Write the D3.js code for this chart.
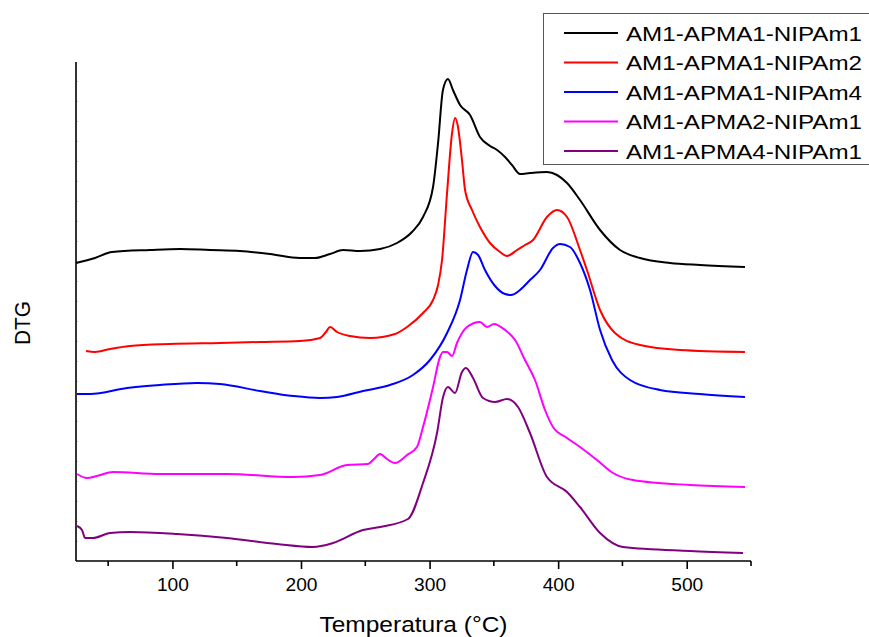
<!DOCTYPE html>
<html>
<head>
<script src="https://d3js.org/d3.v7.min.js"></script>
<style>
  body { margin: 0; background: #fff; }
  text { font-family: "Liberation Sans", Arial, sans-serif; }
</style>
</head>
<body>
<svg width="869" height="637"></svg>
<script>
// series names and colours
var names = ["AM1-APMA1-NIPAm1", "AM1-APMA1-NIPAm2", "AM1-APMA1-NIPAm4", "AM1-APMA2-NIPAm1", "AM1-APMA4-NIPAm1"];
var colors = ["#000000", "#ff0000", "#0000ff", "#ff00ff", "#800080"];

// [temperature (°C), DTG (offset, arb. units)]
var nipam1 = [[25,5.96],[39.8,6.06],[53,6.18],[82.6,6.22],[105.9,6.24],[129.2,6.22],[152.6,6.2],[175.9,6.14],[199.2,6.06],[210.9,6.06],[222.6,6.14],[232.7,6.22],[245.9,6.2],[261.5,6.24],[274.7,6.36],[286.3,6.58],[294.9,6.88],[302.7,7.48],[306.6,8.36],[310.4,9.42],[314.3,9.64],[318.2,9.42],[323.7,9.12],[331.5,8.92],[339.2,8.48],[347,8.3],[352.5,8.22],[358.7,8.08],[364.1,7.92],[370.3,7.74],[378.1,7.76],[391.3,7.78],[399.1,7.72],[406.9,7.56],[417,7.22],[432.6,6.62],[448.1,6.22],[463.7,6.06],[487,5.96],[510.3,5.92],[545.3,5.88]];
var nipam2 = [[32.8,4.2],[39.8,4.18],[51.4,4.24],[67,4.3],[98.1,4.34],[137,4.36],[168.1,4.38],[199.2,4.4],[214.8,4.46],[219.4,4.58],[222.6,4.68],[228,4.58],[238.1,4.5],[253.7,4.46],[273.1,4.54],[282.5,4.68],[294.9,4.96],[302.7,5.22],[306.6,5.52],[309.7,6.02],[313.6,7.36],[317.5,8.56],[319.8,8.86],[322.1,8.68],[325.2,8.02],[327.6,7.42],[333,7.02],[339.2,6.68],[347,6.36],[354.8,6.18],[360.2,6.1],[368,6.22],[374.2,6.32],[380.5,6.42],[391.3,6.88],[399.1,7.02],[406.9,6.88],[417,6.22],[422.4,5.82],[432.6,5.02],[444.2,4.56],[463.7,4.32],[494.8,4.22],[545.3,4.18]];
var nipam4 = [[25.8,3.34],[35.9,3.34],[64.7,3.46],[90.3,3.52],[119.1,3.56],[137,3.54],[168.1,3.4],[193.8,3.3],[214.8,3.26],[228,3.28],[248.2,3.4],[269.2,3.52],[287.1,3.72],[300.3,4.02],[313.6,4.56],[323.7,5.22],[329.1,5.82],[333.8,6.18],[337.7,6.12],[343.1,5.82],[350.9,5.5],[358.7,5.34],[363.3,5.32],[370.3,5.42],[378.1,5.62],[385.9,5.82],[396,6.26],[401.5,6.34],[409.2,6.28],[417,5.96],[424.8,5.42],[432.6,4.62],[441.9,4.02],[455.9,3.62],[479.2,3.42],[510.3,3.34],[545.3,3.28]];
var apma2 = [[25.8,1.74],[33.6,1.66],[41.3,1.7],[53.8,1.78],[90.3,1.74],[142.4,1.74],[193.8,1.68],[214.8,1.72],[235.8,1.92],[252.1,1.94],[256.8,2.04],[261.5,2.14],[266.9,2.04],[273.1,1.96],[282.5,2.12],[290.2,2.28],[294.9,2.68],[302.7,3.48],[308.1,4.08],[310.5,4.18],[313.6,4.18],[317.5,4.1],[321.3,4.36],[329.1,4.68],[339.2,4.78],[344.7,4.68],[350.1,4.74],[358.7,4.62],[366.5,4.42],[374.2,4.02],[382,3.62],[389.8,3.02],[396,2.68],[406.9,2.46],[417,2.28],[430.2,2.02],[442.7,1.76],[458.2,1.62],[502.6,1.52],[545.3,1.48]];
var apma4 = [[25.8,0.7],[29.7,0.62],[32,0.46],[38.2,0.46],[51.4,0.56],[67,0.58],[103.6,0.54],[142.4,0.46],[181.3,0.34],[209.3,0.28],[224.9,0.36],[248.2,0.62],[261.5,0.68],[283.2,0.84],[294.9,1.56],[305.8,2.56],[310.5,3.28],[314.3,3.48],[319.8,3.36],[325.2,3.78],[328.3,3.86],[333.8,3.66],[341.6,3.26],[350.9,3.18],[360.2,3.24],[368.8,3.08],[378.1,2.56],[391.3,1.68],[406.9,1.38],[417,1.08],[432.6,0.56],[450.5,0.28],[502.6,0.2],[543.8,0.16]];
var series = [nipam1, nipam2, nipam4, apma2, apma4];

var xMajor = [100, 200, 300, 400, 500];
var xMinor = [50, 150, 250, 350, 450, 550];

var margin = { top: 62, right: 118, bottom: 76, left: 76 };
var width = 869, height = 637;

var x = d3.scaleLinear().domain([25, 550]).range([margin.left, width - margin.right]);
var y = d3.scaleLinear().domain([0, 10]).range([height - margin.bottom, height - margin.bottom - 500]);

var svg = d3.select("svg");

// y axis: line with faint inner ticks, no labels
svg.append("g")
  .attr("transform", `translate(${margin.left},0)`)
  .call(d3.axisLeft(y).tickValues(d3.range(0.4, 10, 0.4)).tickSize(-2).tickFormat(""))
  .call(g => g.select(".domain").remove())
  .call(g => g.selectAll(".tick line").attr("stroke", "#ccc"));
svg.append("line")
  .attr("x1", margin.left).attr("x2", margin.left)
  .attr("y1", margin.top).attr("y2", height - margin.bottom)
  .attr("stroke", "#000").attr("stroke-width", 1.6);

// x axis
var xg = svg.append("g").attr("transform", `translate(0,${height - margin.bottom})`);
xg.call(d3.axisBottom(x).tickValues(xMajor).tickSize(8).tickPadding(9).tickFormat(d3.format("d")))
  .call(g => g.select(".domain").attr("stroke-width", 1.6).attr("d", `M${margin.left},0H${width - margin.right}`))
  .call(g => g.selectAll(".tick line").attr("stroke-width", 1.6))
  .call(g => g.selectAll(".tick text").attr("font-size", 18).attr("font-family", "Liberation Sans, Arial, sans-serif").attr("fill", "#000")
    .attr("textLength", 32).attr("lengthAdjust", "spacingAndGlyphs"));
xg.selectAll(".minor")
  .data(xMinor)
  .join("line")
  .attr("x1", d => x(d)).attr("x2", d => x(d))
  .attr("y1", 0).attr("y2", 5)
  .attr("stroke", "#000").attr("stroke-width", 1.6);

// axis titles
svg.append("text")
  .attr("x", (margin.left + width - margin.right) / 2)
  .attr("y", 632)
  .attr("text-anchor", "middle")
  .attr("font-size", 22)
  .attr("textLength", 188).attr("lengthAdjust", "spacingAndGlyphs")
  .text("Temperatura (°C)");
svg.append("text")
  .attr("transform", "translate(30,323) rotate(-90)")
  .attr("text-anchor", "middle")
  .attr("font-size", 22)
  .attr("textLength", 44).attr("lengthAdjust", "spacingAndGlyphs")
  .text("DTG");

// curves
var line = d3.line()
  .x(d => x(d[0]))
  .y(d => y(d[1]))
  .curve(d3.curveMonotoneX);

svg.append("g")
  .selectAll("path")
  .data(series)
  .join("path")
  .attr("d", line)
  .attr("fill", "none")
  .attr("stroke", (d, i) => colors[i])
  .attr("stroke-width", 2);

// legend
var lg = svg.append("g");
lg.append("rect")
  .attr("x", 543.5).attr("y", 13.5)
  .attr("width", 340).attr("height", 151)
  .attr("fill", "#fff").attr("stroke", "#555").attr("stroke-width", 1);
var item = lg.selectAll(".item")
  .data(names)
  .join("g")
  .attr("transform", (d, i) => `translate(0,${33 + i * 29.5})`);
item.append("line")
  .attr("x1", 564).attr("x2", 618)
  .attr("stroke", (d, i) => colors[i]).attr("stroke-width", 2);
item.append("text")
  .attr("x", 626).attr("dy", "0.36em")
  .attr("font-size", 21)
  .attr("textLength", 236).attr("lengthAdjust", "spacingAndGlyphs")
  .text(d => d);
</script>
</body>
</html>
